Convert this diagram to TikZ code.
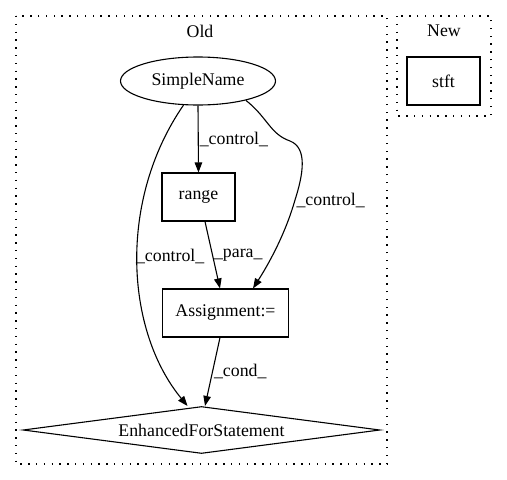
\documentclass[tikz,border=0pt]{standalone}
\usepackage{fontspec}
\setmainfont{Liberation Serif}
\usetikzlibrary{arrows.meta,shapes.geometric}
\tikzset{
        astnode/.style = {align=center, inner sep=0pt, text centered,
            font=\fontsize{17.8}{20}\selectfont},
        ast_b/.style = {astnode, rectangle, draw=black, minimum height=48pt},
        ast_e/.style = {astnode, ellipse, draw=black,
            minimum width=155pt, minimum height=48pt},
        ast_d/.style = {astnode, diamond, draw=black, aspect=7.6,
            minimum width=357pt, minimum height=47pt},
        ast_l/.style = {astnode, inner sep=1pt},
        clus/.style = {-, line width=1.4pt, dash pattern=on 1.4pt off 6.4pt}
    }
\begin{document}
\begin{tikzpicture}[->,>={Triangle[length=10pt,width=7.5pt]},x=1pt,y=-1pt,line width=1.1pt]
    \useasboundingbox (0,0) rectangle (507,480);
    % clusters
    \draw[clus] (16,16) rectangle (387,464);
    \draw[clus] (397,16) rectangle (491,116);
    \node[astnode] (old) at (200,31) {Old};
    \node[astnode] (new) at (444,31) {New};
    % Old
    \node[ast_e] (sn) at (198,81) {SimpleName};
    \node[ast_b, minimum width=73pt] (rg) at (198.5,197) {range};
    \node[ast_b, minimum width=126pt] (as) at (225.5,313) {Assignment:=};
    \node[ast_d] (efs) at (201.5,430) {EnhancedForStatement};
    % New
    \node[ast_b, minimum width=73pt] (stft) at (443.5,81) {stft};
    % edges
    \draw (sn.south) -- node[ast_l, pos=0.5, anchor=west] (l1) {\_control\_} (rg.north);
    \draw ([xshift=6.5pt]rg.south) -- node[ast_l, pos=0.5, anchor=west] (l2) {\_para\_}
        ([xshift=-5.5pt]as.north);
    \draw (sn.-22) .. controls (268,118) and (270,134) .. (290,141)
        .. controls (308,148) and (303,175) .. (295,200)
        node[ast_l, anchor=west] (l3) {\_control\_}
        .. controls (285,235) and (268,265) .. ([xshift=27.5pt]as.north);
    \draw (sn.-121) .. controls (118,200) and (125,330) ..
        node[ast_l, pos=0.5, anchor=west, xshift=-3pt, yshift=6pt] (l4) {\_control\_}
        ([xshift=-14pt]efs.north);
    \draw ([xshift=-5.5pt]as.south) -- node[ast_l, pos=0.5, anchor=west] (l5) {\_cond\_}
        ([xshift=3.5pt]efs.north);
\end{tikzpicture}
\end{document}
